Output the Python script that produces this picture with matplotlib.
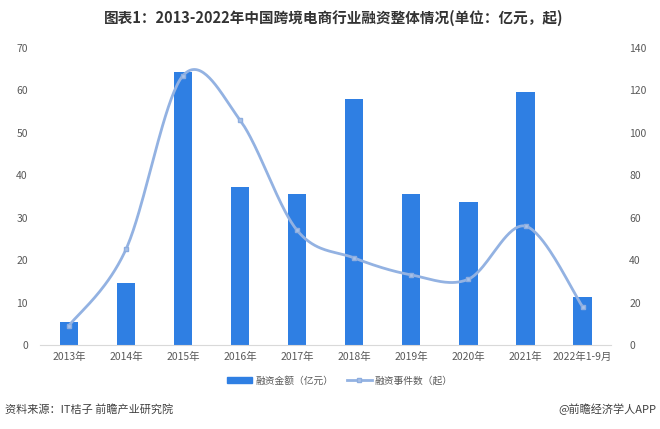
import matplotlib
matplotlib.use("Agg")
import matplotlib.pyplot as plt
from matplotlib.lines import Line2D
from matplotlib.patches import Patch
import numpy as np

plt.rcParams['font.family'] = ['Noto Sans CJK SC', 'DejaVu Sans']

years = ["2013年", "2014年", "2015年", "2016年", "2017年", "2018年",
         "2019年", "2020年", "2021年", "2022年1-9月"]
amount = [5.4, 14.7, 64.3, 37.2, 35.6, 57.9, 35.6, 33.8, 59.6, 11.4]   # 亿元
events = [9, 45, 127, 106, 54, 41, 33, 31, 56, 18]                    # 起

bar_color = "#2F7FE3"
line_color = "#93B2E2"
tick_color = "#595959"


def smooth(xs, ys, yscale, n=40):
    # Excel-style smoothed line: cubic bezier, control points from neighbours / 6
    xs = np.asarray(xs, float)
    ys = np.asarray(ys, float) * yscale
    P = np.column_stack([xs, ys])
    P = np.vstack([P[0], P, P[-1]])
    out = []
    for i in range(1, len(P) - 2):
        p0, p1, p2, p3 = P[i - 1], P[i], P[i + 1], P[i + 2]
        c1 = p1 + (p2 - p0) / 6
        c2 = p2 - (p3 - p1) / 6
        t = np.linspace(0, 1, n)[:, None]
        seg = ((1 - t) ** 3) * p1 + 3 * ((1 - t) ** 2) * t * c1 + 3 * (1 - t) * t ** 2 * c2 + t ** 3 * p2
        out.append(seg if i == 1 else seg[1:])
    out = np.vstack(out)
    return out[:, 0], out[:, 1] / yscale


fig = plt.figure(figsize=(6.6, 4.29), dpi=100)
ax = fig.add_axes([0.061, 0.196, 0.865, 0.692])
ax2 = ax.twinx()

x = np.arange(len(years))
ax.bar(x, amount, width=0.32, color=bar_color, zorder=2)
ax.set_ylim(0, 70)
ax.set_yticks(range(0, 71, 10))
ax.set_xlim(-0.5, len(years) - 0.5)
ax.set_xticks(x)
ax.set_xticklabels(years)

# pixel ratio: one category ~57 px, one event ~2.12 px
sx, sy = smooth(x, events, 2.12 / 57.1)
ax2.plot(sx, sy, color=line_color, lw=2, zorder=3)
ax2.plot(x, events, ls="none", marker="s", ms=3.5, color="#A9C2E8",
         mec="#8DADDF", zorder=4)
ax2.set_ylim(0, 140)
ax2.set_yticks(range(0, 141, 20))

for a in (ax, ax2):
    for s in a.spines.values():
        s.set_visible(False)
    a.tick_params(length=0, labelsize=7.5, colors=tick_color)
ax.spines['bottom'].set_visible(True)
ax.spines['bottom'].set_color("#D9D9D9")
ax.tick_params(axis='y', pad=9)
ax2.tick_params(axis='y', pad=13)
ax.tick_params(axis='x', pad=5)

fig.text(0.505, 0.958, "图表1：2013-2022年中国跨境电商行业融资整体情况(单位：亿元，起)",
         ha="center", va="center", fontsize=10.5, fontweight="bold", color="#333333")

handles = [Patch(color=bar_color),
           Line2D([], [], color=line_color, lw=2, marker="s", ms=3.5,
                  mfc="#A9C2E8", mec="#8DADDF")]
fig.legend(handles, ["融资金额（亿元）", "融资事件数（起）"], loc="center",
           bbox_to_anchor=(0.515, 0.113), ncol=2, frameon=False, fontsize=7,
           handlelength=2.6, handleheight=0.5, columnspacing=1.4, handletextpad=0.3,
           labelcolor=tick_color)

fig.text(0.008, 0.045, "资料来源：IT桔子 前瞻产业研究院", ha="left", va="center",
         fontsize=8, color="#404040")
fig.text(0.995, 0.045, "@前瞻经济学人APP", ha="right", va="center",
         fontsize=8, color="#404040")

fig.savefig("out.png", dpi=100, facecolor="white")
